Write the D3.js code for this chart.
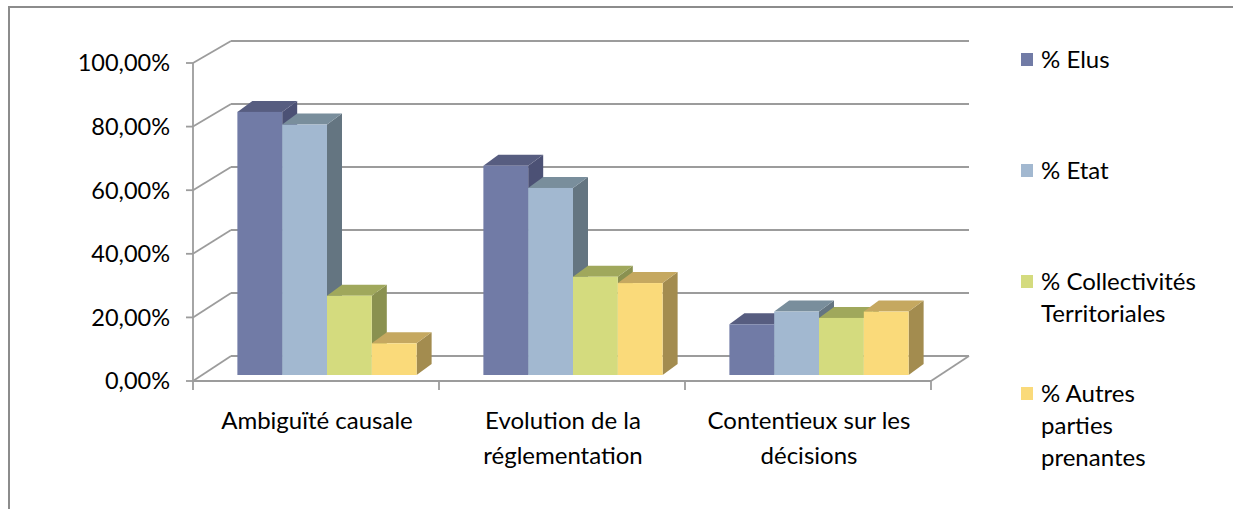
<!DOCTYPE html>
<html>
<head>
<meta charset="utf-8">
<script src="https://cdn.jsdelivr.net/npm/d3@7"></script>
<style>
  body { margin: 0; background: #fff; }
  svg { display: block; }
  text { font-family: Lato, "Open Sans", sans-serif; fill: #000; }
</style>
</head>
<body>
<svg id="chart" width="1233" height="509"></svg>
<script>
// Categories (line breaks marked with \n)
const categories = ["Ambiguïté causale", "Evolution de la\nréglementation", "Contentieux sur les\ndécisions"];
// Series names, as shown in the legend
const seriesNames = ["% Elus", "% Etat", "% Collectivités\nTerritoriales", "% Autres\nparties\nprenantes"];
// Values in percent, one per category
const elus = [83, 66, 16];
const etat = [79, 59, 20];
const collectivites = [25, 31, 18];
const autres = [10, 29, 20];
// Value axis
const yTicks = [0, 20, 40, 60, 80, 100];
const yTickLabels = ["0,00%", "20,00%", "40,00%", "60,00%", "80,00%", "100,00%"];

const seriesValues = [elus, etat, collectivites, autres];
// front, top, side shading for each series
const palette = [
  { front: "#717ba6", top: "#575d80", side: "#4c5175" },
  { front: "#a2b8d0", top: "#798e9c", side: "#647581" },
  { front: "#d4db7e", top: "#a0a85c", side: "#8a9150" },
  { front: "#fada7a", top: "#c5a860", side: "#a38c4f" }
];

const svg = d3.select("#chart");

// outer frame
svg.append("rect")
  .attr("x", 9).attr("y", 7).attr("width", 1300).attr("height", 600)
  .attr("fill", "none").attr("stroke", "#8c8c8c").attr("stroke-width", 2);

// 3D box geometry: front plane, back wall offset
const wallDX = 38;
const x = d3.scaleBand().domain(categories).range([193, 931]).padding(0);
const yFront = d3.scaleLinear().domain([0, 100]).range([381, 63]);
const yBack = d3.scaleLinear().domain([0, 100]).range([356, 41]);
const xLeft = x.range()[0], xRight = x.range()[1];

const grid = svg.append("g").attr("stroke", "#9c9c9c").attr("stroke-width", 1.8).attr("fill", "none");

yTicks.forEach(t => {
  // back wall gridline
  grid.append("line")
    .attr("x1", xLeft + wallDX).attr("y1", yBack(t))
    .attr("x2", xRight + wallDX).attr("y2", yBack(t));
  // side wall diagonal
  grid.append("line")
    .attr("x1", xLeft).attr("y1", yFront(t))
    .attr("x2", xLeft + wallDX).attr("y2", yBack(t));
  // tick mark
  grid.append("line")
    .attr("x1", xLeft - 7).attr("y1", yFront(t))
    .attr("x2", xLeft).attr("y2", yFront(t));
});
// value axis line
grid.append("line")
  .attr("x1", xLeft).attr("y1", yFront(0))
  .attr("x2", xLeft).attr("y2", yFront(100));
// floor front edge and right edge
grid.append("line")
  .attr("x1", xLeft).attr("y1", yFront(0))
  .attr("x2", xRight).attr("y2", yFront(0));
grid.append("line")
  .attr("x1", xRight).attr("y1", yFront(0))
  .attr("x2", xRight + wallDX).attr("y2", yBack(0));
// category ticks
[...categories.map(c => x(c)), xRight].forEach(px => {
  grid.append("line")
    .attr("x1", px).attr("y1", yFront(0))
    .attr("x2", px).attr("y2", yFront(0) + 9);
});

// value labels
svg.append("g").selectAll("text").data(yTicks).join("text")
  .attr("x", 170)
  .attr("y", d => yFront(d))
  .attr("dy", "0.36em")
  .attr("text-anchor", "end")
  .attr("font-size", 23.5)
  .text((d, i) => yTickLabels[i]);

// bars sit slightly behind the front plane
const barOX = 11, barOY = -6;
const yBar = d3.scaleLinear().domain([0, 100]).range([yFront(0) + barOY, 58]);
const inner = d3.scaleBand().domain(d3.range(seriesValues.length))
  .range([0, x.bandwidth()]).paddingInner(0).paddingOuter(0.745);
const depthDX = 15, depthDY = -11;

const bars = svg.append("g");
categories.forEach((cat, ci) => {
  seriesValues.forEach((vals, si) => {
    const v = vals[ci];
    const x0 = x(cat) + barOX + inner(si);
    const x1 = x0 + inner.bandwidth();
    const yb = yBar(0), yt = yBar(v);
    const col = palette[si];
    // right side face
    bars.append("polygon")
      .attr("points", [[x1, yb], [x1 + depthDX, yb + depthDY], [x1 + depthDX, yt + depthDY], [x1, yt]].join(" "))
      .attr("fill", col.side);
    // top face
    bars.append("polygon")
      .attr("points", [[x0, yt], [x0 + depthDX, yt + depthDY], [x1 + depthDX, yt + depthDY], [x1, yt]].join(" "))
      .attr("fill", col.top);
    // front face
    bars.append("rect")
      .attr("x", x0).attr("y", yt)
      .attr("width", inner.bandwidth()).attr("height", yb - yt)
      .attr("fill", col.front);
  });
});

// category labels
const catG = svg.append("g");
categories.forEach(cat => {
  const cx = x(cat) + x.bandwidth() / 2 + 1;
  const t = catG.append("text")
    .attr("x", cx)
    .attr("y", 429)
    .attr("text-anchor", "middle")
    .attr("font-size", 24);
  cat.split("\n").forEach((line, i) => {
    t.append("tspan").attr("x", cx).attr("dy", i ? 35 : 0).text(line);
  });
});

// legend
const legendTop = [68, 179, 290, 402];
const leg = svg.append("g");
seriesNames.forEach((name, i) => {
  leg.append("rect")
    .attr("x", 1021).attr("y", legendTop[i] - 15)
    .attr("width", 12).attr("height", 13)
    .attr("fill", palette[i].front);
  const t = leg.append("text")
    .attr("x", 1041).attr("y", legendTop[i])
    .attr("font-size", 24);
  name.split("\n").forEach((line, j) => {
    t.append("tspan").attr("x", 1041).attr("dy", j ? 32 : 0).text(line);
  });
});
</script>
</body>
</html>
